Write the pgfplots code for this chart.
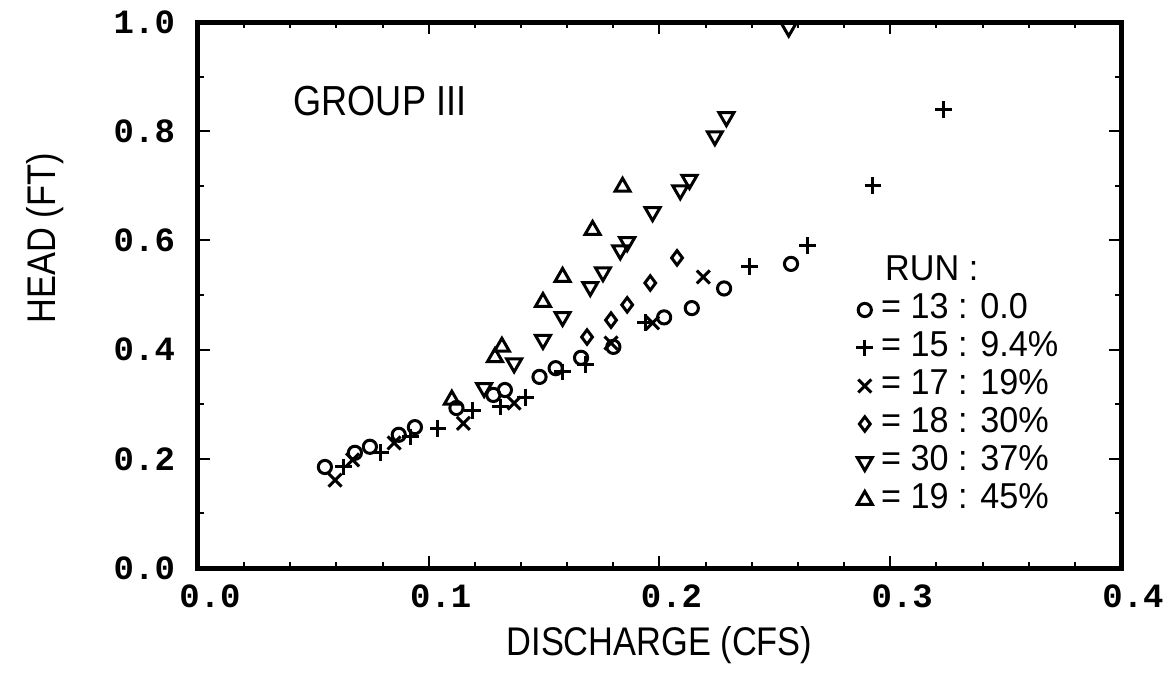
\documentclass[border=0pt]{standalone}
\usepackage{fontspec}
\setmainfont{Liberation Sans}[FakeStretch=0.86]
\newfontfamily\keyfont{Liberation Sans}[FakeStretch=0.95]
\newfontfamily\tickfont{Liberation Mono}
\usepackage{pgfplots}
\pgfplotsset{compat=1.18}

% Head-discharge measurements, group III (discharge in cfs, head in ft)
\pgfplotstableread{
q      h
0.055  0.185
0.068  0.211
0.0745 0.222
0.087  0.244
0.094  0.258
0.112  0.293
0.128  0.317
0.133  0.326
0.148  0.350
0.155  0.366
0.166  0.385
0.180  0.405
0.202  0.459
0.214  0.476
0.228  0.512
0.257  0.557
}\runA
\pgfplotstableread{
q      h
0.063  0.185
0.079  0.212
0.092  0.240
0.104  0.256
0.119  0.289
0.131  0.295
0.142  0.313
0.158  0.359
0.168  0.372
0.194  0.449
0.239  0.552
0.264  0.590
0.2925 0.700
0.323  0.840
}\runB
\pgfplotstableread{
q      h
0.0594 0.161
0.067  0.198
0.085  0.229
0.115  0.265
0.137  0.302
0.179  0.412
0.197  0.449
0.219  0.533
}\runC
\pgfplotstableread{
q      h
0.1686 0.423
0.179  0.454
0.186  0.482
0.196  0.522
0.2076 0.568
}\runD
\pgfplotstableread{
q      h
0.124  0.330
0.137  0.375
0.1495 0.418
0.158  0.460
0.170  0.515
0.1755 0.542
0.183  0.582
0.186  0.597
0.197  0.652
0.209  0.692
0.213  0.711
0.224  0.791
0.229  0.826
0.256  0.990
}\runE
\pgfplotstableread{
q      h
0.110  0.308
0.1287 0.386
0.1317 0.405
0.1495 0.487
0.158  0.533
0.171  0.619
0.184  0.698
}\runF

\begin{document}
\begin{tikzpicture}
\begin{axis}[
  scale only axis,
  width=461.5pt, height=273pt,
  xmin=0, xmax=0.4, ymin=0, ymax=1,
  clip=false,
  axis line style={line width=2.5pt, line cap=rect, line join=miter},
  xtick={0,0.1,0.2,0.3,0.4},
  ytick={0,0.2,0.4,0.6,0.8,1.0},
  minor x tick num=4,
  minor y tick num=1,
  tick align=inside,
  major tick length=6pt,
  minor tick length=3pt,
  tick style={line width=1pt, black},
  /pgf/number format/.cd, fixed, fixed zerofill, precision=1, assume math mode=true,
  /pgfplots/.cd,
  ticklabel style={font=\tickfont\bfseries\fontsize{17}{17}\selectfont},
  xticklabel style={yshift=-5pt, xshift=6pt},
  yticklabel style={xshift=-8pt},
  xlabel={DISCHARGE (CFS)},
  ylabel={HEAD (FT)},
  label style={font=\fontsize{20}{20}\selectfont},
  xlabel style={at={(axis description cs:0.5,-0.141)}, anchor=center},
  ylabel style={at={(axis description cs:-0.166,0.604)}, anchor=center, rotate=0},
  legend style={
    at={(axis description cs:0.697,0.585)}, anchor=north west,
    draw=none, fill=none,
    font=\keyfont\fontsize{18}{18}\selectfont,
    nodes={inner sep=1pt, text height=13pt, text depth=4pt},
    row sep=0pt,
    /tikz/every odd column/.append style={column sep=3pt},
  },
  legend cell align=left,
  every axis plot/.append style={only marks, black, line width=1.5pt, mark options={solid, fill=none}},
]
\addlegendimage{empty legend}
\addlegendentry{\hspace*{2pt}RUN :}
\addplot[mark=o, mark size=3.3pt] table[x=q, y=h] {\runA};
\addlegendentry{= 13 : 0.0}
\addplot[mark=+, mark size=4.2pt] table[x=q, y=h] {\runB};
\addlegendentry{= 15 : 9.4\%}
\addplot[mark=x, mark size=4.6pt] table[x=q, y=h] {\runC};
\addlegendentry{= 17 : 19\%}
\addplot[mark=diamond, mark size=3.6pt] table[x=q, y=h] {\runD};
\addlegendentry{= 18 : 30\%}
\addplot[mark=triangle, mark size=4.3pt, mark options={rotate=180}] table[x=q, y=h] {\runE};
\addlegendentry{= 30 : 37\%}
\addplot[mark=triangle, mark size=4.3pt] table[x=q, y=h] {\runF};
\addlegendentry{= 19 : 45\%}
\node[anchor=west, font=\fontsize{21}{21}\selectfont] at (axis description cs:0.096,0.855) {GROUP III};
\end{axis}
\path[use as bounding box] (-99pt,-54pt) rectangle (488pt,284pt);
\end{tikzpicture}
\end{document}
